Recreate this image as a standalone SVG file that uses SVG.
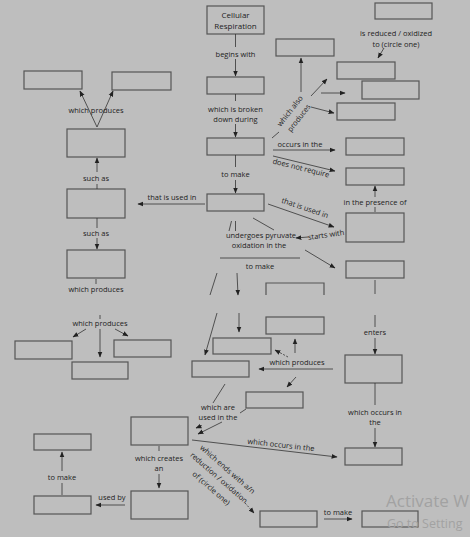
<svg xmlns="http://www.w3.org/2000/svg" width="470" height="537" viewBox="0 0 470 537">
<defs>
<marker id="ah" viewBox="0 0 10 10" refX="9" refY="5" markerWidth="6" markerHeight="6" markerUnits="userSpaceOnUse" orient="auto">
<path d="M0,1 L10,5 L0,9 z" fill="#222"/>
</marker>
<style>
.b{fill:none;stroke:#555;stroke-width:1.2}
.c{fill:none;stroke:#333;stroke-width:0.8}
.a{marker-end:url(#ah)}
.d{stroke-dasharray:2 1.5}
text{font-family:"Open Sans","Noto Sans",sans-serif;font-size:7.5px;fill:#222;text-anchor:middle}
.t{font-size:8px}
.w1{font-family:"Open Sans",sans-serif;font-size:17px;fill:#a2a2a2;text-anchor:start}
.w2{font-family:"Open Sans",sans-serif;font-size:12.5px;fill:#a2a2a2;text-anchor:start}
</style>
</defs>
<rect width="470" height="537" fill="#bebebe"/>

<g id="nodes">
<g id="n1"><rect class="b" x="207" y="6" width="57" height="28"/><text class="t" x="235.5" y="17.5">Cellular</text><text class="t" x="235.5" y="28.5">Respiration</text></g>
<g id="n2"><rect class="b" x="375" y="3" width="57" height="16"/></g>
<g id="n3"><rect class="b" x="207" y="77" width="57" height="17"/></g>
<g id="n4"><rect class="b" x="276" y="39" width="58" height="17"/></g>
<g id="n5"><rect class="b" x="337" y="62" width="58" height="17"/></g>
<g id="n6"><rect class="b" x="362" y="81" width="57" height="18"/></g>
<g id="n7"><rect class="b" x="337" y="103" width="58" height="17"/></g>
<g id="n8"><rect class="b" x="207" y="138" width="57" height="17"/></g>
<g id="n9"><rect class="b" x="346" y="138" width="58" height="17"/></g>
<g id="n10"><rect class="b" x="346" y="168" width="58" height="17"/></g>
<g id="n11"><rect class="b" x="207" y="194" width="57" height="17"/></g>
<g id="n12"><rect class="b" x="346" y="213" width="58" height="29"/></g>
<g id="n13"><rect class="b" x="346" y="261" width="58" height="17"/></g>
<g id="n14"><rect class="b" x="24" y="71" width="58" height="18"/></g>
<g id="n15"><rect class="b" x="112" y="72" width="59" height="18"/></g>
<g id="n16"><rect class="b" x="67" y="129" width="58" height="28"/></g>
<g id="n17"><rect class="b" x="67" y="189" width="58" height="29"/></g>
<g id="n18"><rect class="b" x="67" y="250" width="58" height="28"/></g>
<g id="n19"><rect class="b" x="15" y="341" width="57" height="18"/></g>
<g id="n20"><rect class="b" x="114" y="340" width="57" height="17"/></g>
<g id="n21"><rect class="b" x="72" y="362" width="56" height="17"/></g>
<g id="n22"><path class="b" d="M266,295 V283 H324 V295"/></g>
<g id="n23"><rect class="b" x="266" y="317" width="58" height="17"/></g>
<g id="n24"><rect class="b" x="213" y="338" width="58" height="16"/></g>
<g id="n25"><rect class="b" x="192" y="361" width="57" height="16"/></g>
<g id="n26"><rect class="b" x="246" y="392" width="57" height="16"/></g>
<g id="n27"><rect class="b" x="345" y="355" width="57" height="28"/></g>
<g id="n28"><rect class="b" x="345" y="448" width="57" height="17"/></g>
<g id="n29"><rect class="b" x="131" y="417" width="57" height="28"/></g>
<g id="n30"><rect class="b" x="131" y="491" width="57" height="28"/></g>
<g id="n31"><rect class="b" x="34" y="434" width="57" height="16"/></g>
<g id="n32"><rect class="b" x="34" y="496" width="57" height="18"/></g>
<g id="n33"><rect class="b" x="260" y="511" width="57" height="16"/></g>
<g id="n34"><rect class="b" x="362" y="511" width="56" height="16"/></g>
</g>

<g id="connectors">
<line class="c" x1="235.5" y1="34" x2="235.5" y2="47"/>
<line class="c a" x1="235.5" y1="59" x2="235.5" y2="76"/>
<line class="c" x1="235.5" y1="94" x2="235.5" y2="101"/>
<line class="c a" x1="235.5" y1="124" x2="235.5" y2="137"/>
<line class="c" x1="235.5" y1="155" x2="235.5" y2="167"/>
<line class="c a" x1="235.5" y1="180" x2="235.5" y2="193"/>
<line class="c a" x1="205" y1="204" x2="138" y2="204"/>
<line class="c" x1="229" y1="231" x2="231.5" y2="221"/>
<line class="c" x1="235.5" y1="221" x2="235.5" y2="231"/>
<line class="c" x1="253" y1="218" x2="274" y2="230"/>
<line class="c a" x1="308" y1="237" x2="296" y2="238"/>
<line class="c a" x1="305" y1="250" x2="335" y2="268"/>
<line class="c" x1="220" y1="258" x2="300" y2="258"/>
<line class="c a" x1="268" y1="204" x2="334" y2="227"/>
<line class="c" x1="272" y1="138" x2="279" y2="132"/>
<line class="c a" x1="301" y1="92" x2="301" y2="58"/>
<line class="c a" x1="311" y1="96" x2="327" y2="79"/>
<line class="c a" x1="321" y1="93" x2="345" y2="93"/>
<line class="c a" x1="311" y1="107" x2="334" y2="113"/>
<line class="c a" x1="384" y1="48" x2="378" y2="58"/>
<line class="c a" x1="273" y1="150" x2="335" y2="150"/>
<line class="c a" x1="273" y1="156" x2="335" y2="171"/>
<line class="c a" x1="375" y1="197" x2="375" y2="186"/>
<line class="c" x1="375" y1="207" x2="375" y2="212"/>
<line class="c" x1="375" y1="280" x2="375" y2="294"/>
<line class="c" x1="375" y1="315" x2="375" y2="327"/>
<line class="c a" x1="375" y1="338" x2="375" y2="354"/>
<line class="c" x1="375" y1="383" x2="375" y2="405"/>
<line class="c a" x1="375" y1="428" x2="375" y2="447"/>
<line class="c a" x1="333" y1="369" x2="259" y2="369"/>
<line class="c a" x1="295" y1="353" x2="295" y2="339"/>
<line class="c a d" x1="288" y1="357" x2="275" y2="350"/>
<line class="c a" x1="296" y1="377" x2="287" y2="387"/>
<line class="c" x1="217" y1="273" x2="210" y2="295"/>
<line class="c a" x1="237" y1="273" x2="238" y2="295"/>
<line class="c a" x1="217" y1="313" x2="205" y2="355"/>
<line class="c a" x1="239" y1="313" x2="239" y2="332"/>
<line class="c" x1="225" y1="384" x2="213" y2="403"/>
<line class="c" x1="246" y1="409" x2="240" y2="413"/>
<line class="c a" x1="202" y1="425.5" x2="196" y2="428"/>
<line class="c a" x1="222" y1="422" x2="198" y2="434"/>
<line class="c a" x1="192" y1="440" x2="337" y2="457"/>
<line class="c a d" x1="245" y1="503" x2="254" y2="513"/>
<line class="c a" x1="324" y1="519" x2="352" y2="519"/>
<line class="c" x1="159" y1="446" x2="159" y2="451"/>
<line class="c a" x1="159" y1="474" x2="159" y2="488"/>
<line class="c a" x1="125" y1="505" x2="96" y2="505"/>
<line class="c" x1="62" y1="495" x2="62" y2="483"/>
<line class="c a" x1="62" y1="471" x2="62" y2="452"/>
<line class="c a" x1="97" y1="127" x2="80" y2="91"/>
<line class="c a" x1="97" y1="127" x2="113" y2="91"/>
<line class="c a" x1="97" y1="172" x2="97" y2="158"/>
<line class="c" x1="97" y1="184" x2="97" y2="189"/>
<line class="c" x1="97" y1="218" x2="97" y2="228"/>
<line class="c a" x1="97" y1="238" x2="97" y2="249"/>
<line class="c" x1="96" y1="279" x2="96" y2="284"/>
<line class="c" x1="100" y1="315" x2="100" y2="319"/>
<line class="c a" x1="86" y1="329" x2="73" y2="337"/>
<line class="c a" x1="100" y1="329" x2="100" y2="357"/>
<line class="c a" x1="115" y1="329" x2="128" y2="336"/>
</g>

<g id="labels">
<text x="235.5" y="56.5">begins with</text>
<text x="235.5" y="111.5">which is broken</text>
<text x="235.5" y="121.5">down during</text>
<text x="235.5" y="176.5">to make</text>
<text x="172" y="199.5">that is used in</text>
<text x="261" y="237.5">undergoes pyruvate</text>
<text x="259" y="247.5">oxidation  in the</text>
<text x="260" y="268.5">to make</text>
<text transform="translate(326,235) rotate(-8)" y="2.5">starts with</text>
<text transform="translate(305,208) rotate(19)" y="2.5">that is used in</text>
<text transform="translate(290,111) rotate(-52)" y="2.5">which also</text>
<text transform="translate(299,118) rotate(-52)" y="2.5">produces</text>
<text x="396" y="35.5">is reduced / oxidized</text>
<text x="396" y="46.5">to (circle one)</text>
<text x="300" y="146.5">occurs in the</text>
<text transform="translate(301,168) rotate(14)" y="2.5">does not require</text>
<text x="375" y="204.5">in the presence of</text>
<text x="375" y="334.5">enters</text>
<text x="375" y="414.5">which occurs in</text>
<text x="375" y="424.5">the</text>
<text x="297" y="364.5">which produces</text>
<text x="218" y="409.5">which are</text>
<text x="218" y="419.5">used in the</text>
<text transform="translate(281,445) rotate(6.5)" y="2.5">which occurs in the</text>
<g transform="translate(227.5,469.5) rotate(41)">
<text y="2.5">which ends with a/n</text>
<text x="-1" y="14.5">reduction / oxidation</text>
<text y="27.5">of (circle one)</text>
</g>
<text x="338" y="514.5">to make</text>
<text x="159" y="460.5">which creates</text>
<text x="159" y="470.5">an</text>
<text x="112" y="499.5">used by</text>
<text x="62" y="479.5">to make</text>
<text x="96" y="112.5">which produces</text>
<text x="96" y="180.5">such as</text>
<text x="96" y="235.5">such as</text>
<text x="96" y="291.5">which produces</text>
<text x="100" y="325.5">which produces</text>
</g>

<g id="watermark">
<text class="w1" x="386" y="507">Activate W</text>
<text class="w2" x="387" y="528">Go to Setting</text>
</g>
</svg>
